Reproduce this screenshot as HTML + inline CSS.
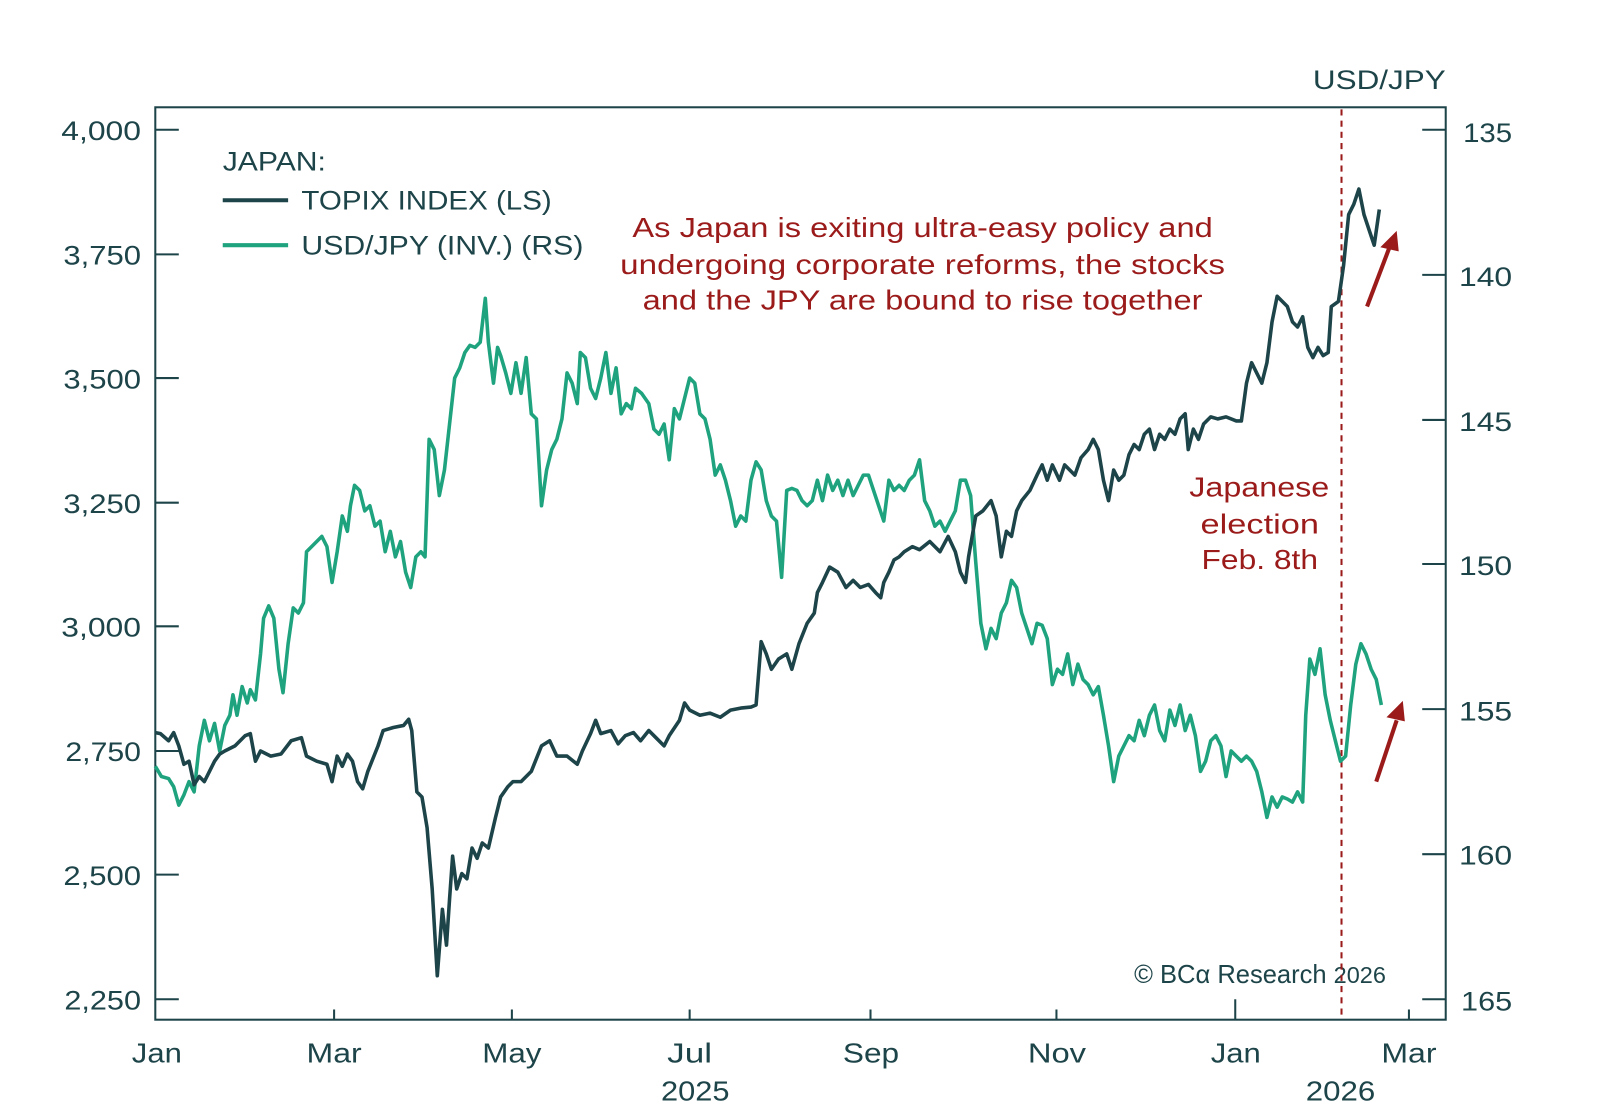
<!DOCTYPE html>
<html><head><meta charset="utf-8"><style>
html,body{margin:0;padding:0;background:#fff;}
svg{display:block;}
text{font-family:"Liberation Sans",sans-serif;}
</style></head><body>
<svg width="1600" height="1109" viewBox="0 0 1566 1085.4" preserveAspectRatio="none" xmlns="http://www.w3.org/2000/svg">
<rect x="0" y="0" width="1566" height="1086" fill="#fff"/>
<g stroke="#1d4449" stroke-width="2" fill="none">
<rect x="152" y="105" width="1263" height="893"/>
</g>
<g stroke="#1d4449" stroke-width="2">
<line x1="152" y1="127" x2="175" y2="127"/><line x1="152" y1="249" x2="175" y2="249"/><line x1="152" y1="370" x2="175" y2="370"/><line x1="152" y1="492" x2="175" y2="492"/><line x1="152" y1="613" x2="175" y2="613"/><line x1="152" y1="735" x2="175" y2="735"/><line x1="152" y1="856" x2="175" y2="856"/><line x1="152" y1="978" x2="175" y2="978"/>
<line x1="1415" y1="127" x2="1392" y2="127"/><line x1="1415" y1="269" x2="1392" y2="269"/><line x1="1415" y1="411" x2="1392" y2="411"/><line x1="1415" y1="552" x2="1392" y2="552"/><line x1="1415" y1="694" x2="1392" y2="694"/><line x1="1415" y1="836" x2="1392" y2="836"/><line x1="1415" y1="978" x2="1392" y2="978"/>
<line x1="327" y1="998" x2="327" y2="988"/><line x1="501" y1="998" x2="501" y2="988"/><line x1="675" y1="998" x2="675" y2="988"/><line x1="852" y1="998" x2="852" y2="988"/><line x1="1034" y1="998" x2="1034" y2="988"/><line x1="1209" y1="998" x2="1209" y2="978"/><line x1="1379" y1="998" x2="1379" y2="988"/>
</g>
<g fill="#1d4449" font-size="26">
<text x="60" y="137" textLength="78" lengthAdjust="spacingAndGlyphs">4,000</text><text x="62" y="259" textLength="76" lengthAdjust="spacingAndGlyphs">3,750</text><text x="62" y="380" textLength="76" lengthAdjust="spacingAndGlyphs">3,500</text><text x="62" y="502" textLength="76" lengthAdjust="spacingAndGlyphs">3,250</text><text x="60" y="623" textLength="78" lengthAdjust="spacingAndGlyphs">3,000</text><text x="64" y="745" textLength="74" lengthAdjust="spacingAndGlyphs">2,750</text><text x="62" y="866" textLength="76" lengthAdjust="spacingAndGlyphs">2,500</text><text x="63" y="988" textLength="75" lengthAdjust="spacingAndGlyphs">2,250</text>
</g>
<g fill="#1d4449" font-size="26">
<text x="1432" y="139" textLength="48" lengthAdjust="spacingAndGlyphs">135</text><text x="1428" y="280" textLength="52" lengthAdjust="spacingAndGlyphs">140</text><text x="1428" y="422" textLength="52" lengthAdjust="spacingAndGlyphs">145</text><text x="1428" y="563" textLength="52" lengthAdjust="spacingAndGlyphs">150</text><text x="1428" y="705" textLength="52" lengthAdjust="spacingAndGlyphs">155</text><text x="1428" y="846" textLength="52" lengthAdjust="spacingAndGlyphs">160</text><text x="1430" y="989" textLength="50" lengthAdjust="spacingAndGlyphs">165</text>
<text x="1285" y="87" textLength="130" lengthAdjust="spacingAndGlyphs">USD/JPY</text>
</g>
<g fill="#1d4449" font-size="27">
<text x="129" y="1040" textLength="49" lengthAdjust="spacingAndGlyphs">Jan</text><text x="300" y="1040" textLength="54" lengthAdjust="spacingAndGlyphs">Mar</text><text x="472" y="1040" textLength="58" lengthAdjust="spacingAndGlyphs">May</text><text x="653" y="1040" textLength="44" lengthAdjust="spacingAndGlyphs">Jul</text><text x="825" y="1040" textLength="55" lengthAdjust="spacingAndGlyphs">Sep</text><text x="1006" y="1040" textLength="57" lengthAdjust="spacingAndGlyphs">Nov</text><text x="1185" y="1040" textLength="49" lengthAdjust="spacingAndGlyphs">Jan</text><text x="1352" y="1040" textLength="54" lengthAdjust="spacingAndGlyphs">Mar</text>
<text x="647" y="1077" textLength="67" lengthAdjust="spacingAndGlyphs">2025</text><text x="1278" y="1077" textLength="68" lengthAdjust="spacingAndGlyphs">2026</text>
</g>
<g fill="#1d4449" font-size="26">
<text x="218" y="167" textLength="101" lengthAdjust="spacingAndGlyphs">JAPAN:</text>
<text x="295" y="205" textLength="245" lengthAdjust="spacingAndGlyphs">TOPIX INDEX (LS)</text>
<text x="295" y="249" textLength="276" lengthAdjust="spacingAndGlyphs">USD/JPY (INV.) (RS)</text>
</g>
<line x1="218" y1="196" x2="282" y2="196" stroke="#1d4449" stroke-width="4"/>
<line x1="218" y1="240" x2="282" y2="240" stroke="#1fa37f" stroke-width="4"/>
<g fill="#9b1b1b" font-size="27">
<text x="619" y="232" textLength="568" lengthAdjust="spacingAndGlyphs">As Japan is exiting ultra-easy policy and</text>
<text x="607" y="268" textLength="592" lengthAdjust="spacingAndGlyphs">undergoing corporate reforms, the stocks</text>
<text x="629" y="303" textLength="548" lengthAdjust="spacingAndGlyphs">and the JPY are bound to rise together</text>
<text x="1164" y="486" textLength="137" lengthAdjust="spacingAndGlyphs">Japanese</text><text x="1175" y="522" textLength="116" lengthAdjust="spacingAndGlyphs">election</text><text x="1176" y="557" textLength="114" lengthAdjust="spacingAndGlyphs">Feb. 8th</text>
</g>
<text x="1110" y="962" fill="#1d4449" font-size="25" font-family="Liberation Serif,serif">© BCα Research <tspan font-family="Liberation Sans,sans-serif" font-size="23">2026</tspan></text>
<line x1="1313" y1="107" x2="1313" y2="996" stroke="#9b1b1b" stroke-width="2" stroke-dasharray="6,5"/>
<polyline fill="none" stroke="#1fa37f" stroke-width="3.5" stroke-linejoin="round" points="152,750 158,760 165,762 170,770 175,788 180,778 185,765 190,775 195,730 200,705 205,725 210,708 215,735 220,710 225,700 228,680 232,700 237,672 242,688 245,675 250,685 255,640 258,605 263,593 268,605 273,655 277,678 282,630 287,595 292,600 297,590 300,540 305,535 310,530 315,525 320,535 325,570 330,540 335,505 340,520 343,495 347,475 352,480 357,500 362,495 367,515 372,510 377,540 382,520 387,545 392,530 397,560 402,575 407,545 412,540 416,545 420,430 425,440 430,485 435,460 440,415 445,370 450,360 455,345 460,338 465,340 470,335 475,292 478,335 483,375 487,340 490,348 495,365 500,385 505,355 510,385 515,350 520,405 525,410 530,495 535,460 540,440 545,430 550,410 555,365 560,375 565,395 568,345 573,350 578,380 583,390 588,370 593,345 598,385 603,360 608,405 613,395 618,400 622,380 628,385 635,395 640,420 645,425 650,415 655,450 660,400 665,410 670,390 675,370 680,375 685,405 690,410 695,430 700,465 705,455 710,470 715,490 720,515 725,505 730,510 735,470 740,452 745,460 750,490 755,505 760,510 765,565 770,480 775,478 780,480 785,490 790,495 795,490 800,470 805,490 810,465 815,480 820,470 825,485 830,470 835,485 840,475 845,465 850,465 855,480 860,495 865,510 870,470 875,480 880,475 885,480 890,470 895,465 900,450 905,490 910,500 915,515 920,510 925,520 930,510 935,500 940,470 945,470 950,485 955,550 960,610 965,635 970,615 975,625 980,600 985,590 990,568 995,575 1000,600 1005,615 1010,630 1015,610 1020,612 1025,625 1030,670 1035,655 1040,660 1045,640 1050,670 1055,650 1060,665 1065,670 1070,680 1075,672 1080,700 1085,730 1090,765 1095,740 1100,730 1105,720 1110,725 1115,705 1120,720 1125,700 1130,690 1135,715 1140,725 1145,695 1150,710 1155,690 1160,715 1165,700 1170,720 1175,755 1180,745 1185,725 1190,720 1195,730 1200,760 1205,735 1210,740 1215,745 1220,740 1225,745 1230,755 1235,775 1240,800 1245,780 1250,790 1255,780 1260,782 1265,785 1270,775 1275,785 1278,700 1282,645 1287,660 1292,635 1297,680 1302,705 1307,725 1312,745 1317,740 1322,690 1327,650 1332,630 1337,640 1342,655 1347,665 1352,690"/>
<polyline fill="none" stroke="#1d4449" stroke-width="3.5" stroke-linejoin="round" points="152,717 157,718 165,725 170,717 175,730 180,748 185,745 190,768 195,760 200,765 205,755 210,745 215,738 220,735 230,730 240,720 245,718 250,745 255,735 265,740 275,738 285,725 295,722 300,740 310,745 320,748 325,765 330,740 335,750 340,738 345,745 350,765 355,772 360,755 370,730 375,715 385,712 395,710 400,704 403,715 408,775 413,780 418,810 423,870 428,955 433,890 437,925 440,880 443,838 447,870 452,855 457,860 462,830 467,840 472,825 478,830 485,800 490,780 497,770 502,765 510,765 520,755 530,730 538,725 545,740 555,740 565,748 570,735 578,718 583,705 588,718 598,715 605,728 612,720 620,717 627,725 635,715 642,722 650,730 655,720 665,705 670,688 675,695 685,700 695,698 705,702 715,695 725,693 735,692 740,690 745,628 750,640 755,655 762,645 770,640 775,655 782,630 790,610 797,600 800,580 805,570 812,555 820,560 828,575 835,568 842,575 850,572 857,580 862,585 865,570 870,560 875,548 880,545 885,540 893,535 900,538 910,530 920,540 928,525 935,540 940,560 945,570 948,545 955,505 962,500 970,490 975,505 980,545 985,520 990,525 995,500 1000,490 1008,480 1015,465 1020,455 1025,470 1030,455 1037,470 1042,455 1047,460 1052,465 1058,448 1065,440 1070,430 1075,440 1080,470 1085,490 1090,460 1095,470 1100,465 1105,445 1110,435 1115,440 1120,425 1125,420 1130,440 1135,425 1140,430 1145,420 1150,425 1155,410 1160,405 1163,440 1168,420 1173,430 1178,415 1185,408 1192,410 1200,408 1210,412 1215,412 1220,375 1225,355 1230,365 1235,375 1240,355 1245,315 1250,290 1255,295 1260,300 1265,315 1270,320 1275,310 1280,340 1285,350 1290,340 1295,348 1300,345 1303,300 1310,295 1315,260 1320,210 1325,200 1330,185 1335,210 1340,225 1345,240 1350,205"/>
<g stroke="#9b1b1b" stroke-width="4" fill="#9b1b1b">
<line x1="1338" y1="300" x2="1360" y2="242"/>
<polygon points="1367,226 1351,242 1369,246" stroke="none"/>
<line x1="1347" y1="765" x2="1367" y2="705"/>
<polygon points="1373,686 1357,702 1375,706" stroke="none"/>
</g>
</svg>
</body></html>
